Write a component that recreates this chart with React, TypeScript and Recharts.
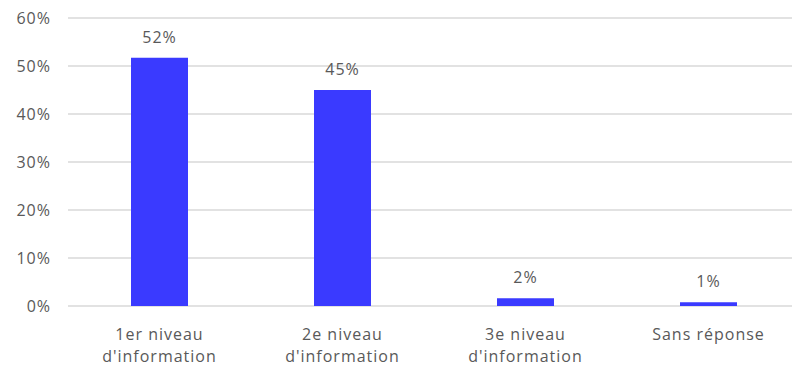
import React from 'react';
import { BarChart, Bar, XAxis, YAxis, CartesianGrid, LabelList } from 'recharts';

const categories = ["1er niveau\nd'information", "2e niveau\nd'information", "3e niveau\nd'information", 'Sans réponse'];
const shares = [0.517, 0.45, 0.016, 0.008];
const yTicks = [0, 0.1, 0.2, 0.3, 0.4, 0.5, 0.6];

const data = categories.map((name, i) => ({ name, value: shares[i] }));

const FONT = '"Open Sans", sans-serif';
const TEXT = '#595959';

const pct = (v: number) => `${Math.round(v * 100)}%`;

const CategoryTick = ({ x, y, payload }: any) => {
  const lines = String(payload.value).split('\n');
  return (
    <text x={x} y={y} textAnchor="middle" fill={TEXT} fontSize={16} letterSpacing={1} fontFamily={FONT}>
      {lines.map((line, i) => (
        <tspan key={i} x={x} dy={i === 0 ? 26 : 22}>{line}</tspan>
      ))}
    </text>
  );
};

export default function App() {
  return (
    <div style={{ position: 'fixed', left: 0, top: 0, width: 792, height: 366, overflow: 'hidden', background: '#fff' }}>
      <BarChart
        width={810}
        height={366}
        data={data}
        margin={{ top: 18, right: 10, bottom: 0, left: 0 }}
      >
        <CartesianGrid vertical={false} stroke="#d9d9d9" strokeWidth={1.5} />
        <XAxis
          dataKey="name"
          axisLine={false}
          tickLine={false}
          height={60}
          interval={0}
          tick={<CategoryTick />}
        />
        <YAxis
          width={68}
          domain={[0, 0.6]}
          ticks={yTicks}
          tickFormatter={pct}
          axisLine={false}
          tickLine={false}
          tickMargin={11}
          tick={{ fill: TEXT, fontSize: 16, fontFamily: FONT, letterSpacing: 1 }}
        />
        <Bar dataKey="value" fill="#3a3aff" barSize={57} isAnimationActive={false}>
          <LabelList
            dataKey="value"
            position="top"
            offset={15}
            formatter={(v: any) => pct(Number(v))}
            style={{ fill: TEXT, fontSize: 16, fontFamily: FONT, letterSpacing: 1 }}
          />
        </Bar>
      </BarChart>
    </div>
  );
}
